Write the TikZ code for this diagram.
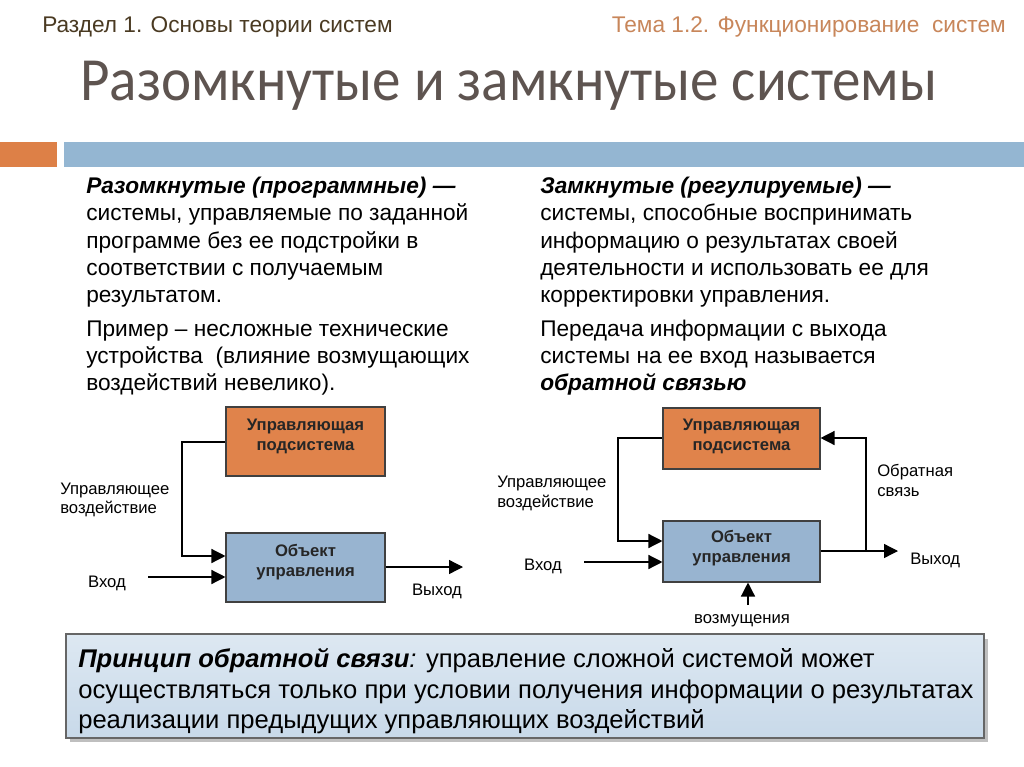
\documentclass[tikz,border=0pt]{standalone}
\usepackage{fontspec}
\setmainfont{Liberation Sans}
\newfontfamily\titlefont[FakeStretch=0.93]{Carlito}
\usetikzlibrary{arrows.meta}
\definecolor{hdrL}{HTML}{4A3A22}
\definecolor{hdrR}{HTML}{C8865A}
\definecolor{titlec}{HTML}{5E5450}
\definecolor{barO}{HTML}{DD8047}
\definecolor{barB}{HTML}{94B6D2}
\definecolor{boxO}{HTML}{E0834B}
\definecolor{boxB}{HTML}{98B4D0}
\definecolor{noteTop}{HTML}{DDE8F2}
\definecolor{noteBot}{HTML}{C8D9E9}
\begin{document}
\begin{tikzpicture}[x=0.75pt,y=-0.75pt,
  hdr/.style={inner sep=0pt, font=\fontsize{17pt}{19pt}\selectfont},
  body/.style={anchor=base west, inner sep=0pt, font=\fontsize{17pt}{20pt}\selectfont},
  lbl/.style={inner sep=0pt, font=\fontsize{12.5pt}{14pt}\selectfont},
  blk/.style={draw=black!75, line width=0.8pt, minimum width=159*0.75pt, minimum height=69*0.75pt, inner sep=0pt},
  btxt/.style={inner sep=0pt, font=\bfseries\fontsize{12.5pt}{14pt}\selectfont, text=black!85},
  arr/.style={line width=1pt, -{Triangle[length=10.5pt,width=10.5pt]}},
  note/.style={anchor=base west, inner sep=0pt, font=\fontsize{19.2pt}{23pt}\selectfont}
]
\path[use as bounding box] (0,0) rectangle (1024,767);
\fill[white] (0,0) rectangle (1024,767);

% header
\node[hdr, anchor=base west, text=hdrL] (h1) at (42,33) {Раздел 1. Основы теории систем};
\node[hdr, anchor=base east, text=hdrR] (h2) at (1006,33) {Тема 1.2. Функционирование\ \ систем};
\node[anchor=base west, inner sep=0pt, font=\titlefont\fontsize{46pt}{50pt}\selectfont, text=titlec] (title) at (80,100) {Разомкнутые и замкнутые системы};

% bars
\fill[barO] (0,142) rectangle (57,167);
\fill[barB] (64,142) rectangle (1024,167);

% left column
\node[body] (a1) at (86,193) {\textbf{\textit{Разомкнутые (программные) —}}};
\node[body] (a2) at (86,220) {системы, управляемые по заданной};
\node[body] (a3) at (86,248) {программе без ее подстройки в};
\node[body] (a4) at (86,275) {соответствии с получаемым};
\node[body] (a5) at (86,302) {результатом.};
\node[body] (a6) at (86,336) {Пример – несложные технические};
\node[body] (a7) at (86,363) {устройства \ (влияние возмущающих};
\node[body] (a8) at (86,390) {воздействий невелико).};

% right column
\node[body] (b1) at (540,193) {\textbf{\textit{Замкнутые (регулируемые) —}}};
\node[body] (b2) at (540,220) {системы, способные воспринимать};
\node[body] (b3) at (540,248) {информацию о результатах своей};
\node[body] (b4) at (540,275) {деятельности и использовать ее для};
\node[body] (b5) at (540,302) {корректировки управления.};
\node[body] (b6) at (540,336) {Передача информации с выхода};
\node[body] (b7) at (540,363) {системы на ее вход называется};
\node[body] (b8) at (540,390) {\textbf{\textit{обратной связью}}};

% left diagram
\node[blk, fill=boxO] (L1) at (305.5,441.5) {};
\node[btxt, anchor=base] (L1a) at (305.5,430) {Управляющая};
\node[btxt, anchor=base] (L1b) at (305.5,450) {подсистема};
\node[blk, fill=boxB] (L2) at (305.5,567.5) {};
\node[btxt, anchor=base] (L2a) at (305.5,556) {Объект};
\node[btxt, anchor=base] (L2b) at (305.5,576) {управления};
\coordinate (Lc) at (182,442);
\coordinate (Lin) at (148,577);
\coordinate (Lout) at (463,567);
\draw[arr] (L1.west |- Lc) -- (Lc) |- (L2.west |- 0,556);
\draw[arr] (Lin) -- (L2.west |- Lin);
\draw[arr] (L2.east |- Lout) -- (Lout);
\node[lbl, anchor=base west] (Lu1) at (60,494) {Управляющее};
\node[lbl, anchor=base west] (Lu2) at (60,513) {воздействие};
\node[lbl, anchor=base] (Lv) at (107,587) {Вход};
\node[lbl, anchor=base] (Lw) at (437,595) {Выход};

% right diagram
\node[blk, fill=boxO, minimum width=157*0.75pt, minimum height=61*0.75pt] (R1) at (741.5,438.5) {};
\node[btxt, anchor=base] (R1a) at (741.5,430) {Управляющая};
\node[btxt, anchor=base] (R1b) at (741.5,450) {подсистема};
\node[blk, fill=boxB, minimum width=157*0.75pt, minimum height=61*0.75pt] (R2) at (741.5,551.5) {};
\node[btxt, anchor=base] (R2a) at (741.5,542) {Объект};
\node[btxt, anchor=base] (R2b) at (741.5,562) {управления};
\coordinate (Rc) at (618,438);
\coordinate (Rin) at (584,562);
\coordinate (Rout) at (898,551);
\coordinate (Rf) at (866,551);
\coordinate (Rd) at (748,605);
\draw[arr] (R1.west |- Rc) -- (Rc) |- (R2.west |- 0,541);
\draw[arr] (Rin) -- (R2.west |- Rin);
\draw[arr] (R2.east |- Rout) -- (Rout);
\draw[arr] (Rf) -- (Rf |- Rc) -- (R1.east |- Rc);
\draw[arr] (Rd) -- (R2.south -| Rd);
\node[lbl, anchor=base west] (Ru1) at (497,487) {Управляющее};
\node[lbl, anchor=base west] (Ru2) at (497,507) {воздействие};
\node[lbl, anchor=base] (Rv) at (543,570) {Вход};
\node[lbl, anchor=base west] (Rfb1) at (877,476) {Обратная};
\node[lbl, anchor=base west] (Rfb2) at (877,496) {связь};
\node[lbl, anchor=base west] (Rw) at (910,564) {Выход};
\node[lbl, anchor=base] (Rdl) at (742,623) {возмущения};

% note box
\fill[black!25] (70,639) rectangle (988,742);
\shade[top color=noteTop, bottom color=noteBot, draw=black!60, line width=1pt] (66,634) rectangle (984,738);
\node[note] (n1) at (78,667) {\textbf{\textit{Принцип обратной связи}}\textit{:} управление сложной системой может};
\node[note] (n2) at (78,698) {осуществляться только при условии получения информации о результатах};
\node[note] (n3) at (78,728) {реализации предыдущих управляющих воздействий};
\end{tikzpicture}
\end{document}
